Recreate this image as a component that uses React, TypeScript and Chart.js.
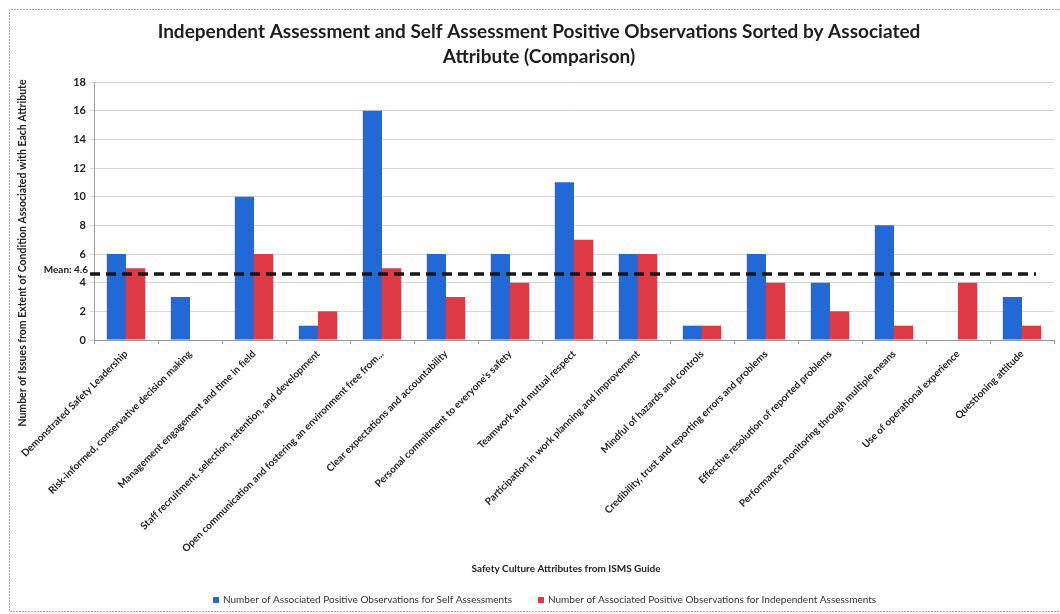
import React, { useEffect, useRef } from "react";
import { Chart, registerables } from "chart.js";

Chart.register(...registerables);

const titleLines = [
  "Independent Assessment and Self Assessment Positive Observations Sorted by Associated",
  "Attribute (Comparison)",
];
const yAxisTitle = "Number of Issues from Extent of Condition Associated with Each Attribute";
const xAxisTitle = "Safety Culture Attributes from ISMS Guide";

const categories = [
  "Demonstrated Safety Leadership",
  "Risk-informed, conservative decision making",
  "Management engagement and time in field",
  "Staff recruitment, selection, retention, and development",
  "Open communication and fostering an environment free from...",
  "Clear expectations and accountability",
  "Personal commitment to everyone's safety",
  "Teamwork and mutual respect",
  "Participation in work planning and improvement",
  "Mindful of hazards and controls",
  "Credibility, trust and reporting errors and problems",
  "Effective resolution of reported problems",
  "Performance monitoring through multiple means",
  "Use of operational experience",
  "Questioning attitude",
];

const seriesLabels = [
  "Number of Associated Positive Observations for Self Assessments",
  "Number of Associated Positive Observations for Independent Assessments",
];
const selfValues = [6, 3, 10, 1, 16, 6, 6, 11, 6, 1, 6, 4, 8, 0, 3];
const independentValues = [5, 0, 6, 2, 5, 3, 4, 7, 6, 1, 4, 2, 1, 4, 1];

const meanValue = 4.6;
const meanLabel = "Mean: 4.6";
const yMin = 0;
const yMax = 18;
const yStep = 2;

const BLUE = "#2269d8";
const RED = "#df3a46";
const FONT = "Lato, 'Open Sans', sans-serif";

const decorPlugin = {
  id: "decor",
  beforeDraw(chart: any) {
    const { ctx, width, height } = chart;
    ctx.save();
    ctx.fillStyle = "#ffffff";
    ctx.fillRect(0, 0, width, height);
    ctx.strokeStyle = "#a8a8a8";
    ctx.lineWidth = 1;
    ctx.setLineDash([2, 1]);
    ctx.beginPath();
    ctx.moveTo(width, 9.5);
    ctx.lineTo(9.5, 9.5);
    ctx.lineTo(9.5, 611.5);
    ctx.lineTo(width, 611.5);
    ctx.stroke();
    ctx.restore();
  },
  afterDatasetsDraw(chart: any) {
    const { ctx, chartArea } = chart;
    const y = chart.scales.y.getPixelForValue(meanValue);
    ctx.save();
    ctx.strokeStyle = "#151515";
    ctx.lineWidth = 3.5;
    ctx.setLineDash([10, 6]);
    ctx.beginPath();
    ctx.moveTo(chartArea.left - 4, y);
    ctx.lineTo(chartArea.right - 18, y);
    ctx.stroke();
    ctx.setLineDash([]);
    ctx.fillStyle = "#222";
    ctx.font = `bold 10px ${FONT}`;
    ctx.textAlign = "right";
    ctx.textBaseline = "middle";
    ctx.fillText(meanLabel, chartArea.left - 6, y - 4);
    ctx.restore();
  },
  afterDraw(chart: any) {
    const { ctx } = chart;
    ctx.save();
    // title
    ctx.fillStyle = "#1e1e1e";
    ctx.font = `bold 19px ${FONT}`;
    ctx.textAlign = "center";
    ctx.textBaseline = "middle";
    titleLines.forEach((t, i) => ctx.fillText(t, 539, 32 + i * 25));
    // y title
    ctx.save();
    ctx.translate(23, 253);
    ctx.rotate(-Math.PI / 2);
    ctx.font = `bold 10.5px ${FONT}`;
    ctx.fillStyle = "#222";
    ctx.fillText(yAxisTitle, 0, 0);
    ctx.restore();
    // x title
    ctx.font = `bold 10px ${FONT}`;
    ctx.fillStyle = "#222";
    ctx.fillText(xAxisTitle, 566, 569);
    // legend
    const items = chart.data.datasets.map((d: any) => ({ label: d.label, color: d.backgroundColor }));
    const starts = [213, 538];
    ctx.font = `10px ${FONT}`;
    ctx.textAlign = "left";
    items.forEach((it: any, i: number) => {
      const x = starts[i];
      ctx.fillStyle = it.color;
      ctx.fillRect(x, 597, 6, 6);
      ctx.fillStyle = "#333";
      ctx.fillText(it.label, x + 10, 600);
    });
    ctx.restore();
  },
};

export default function App() {
  const canvasRef = useRef<HTMLCanvasElement | null>(null);

  useEffect(() => {
    document.body.style.margin = "0";
    const canvas = canvasRef.current;
    if (!canvas) return;
    const chart = new Chart(canvas, {
      type: "bar",
      data: {
        labels: categories,
        datasets: [
          {
            label: seriesLabels[0],
            data: selfValues,
            backgroundColor: BLUE,
            borderWidth: 0,
            categoryPercentage: 0.6,
            barPercentage: 1.0,
          },
          {
            label: seriesLabels[1],
            data: independentValues,
            backgroundColor: RED,
            borderWidth: 0,
            categoryPercentage: 0.6,
            barPercentage: 1.0,
          },
        ],
      },
      options: {
        responsive: false,
        animation: false,
        devicePixelRatio: 1,
        layout: { padding: { top: 82, left: 9, right: 6, bottom: 0 } },
        plugins: {
          legend: { display: false },
          title: { display: false },
          tooltip: { enabled: false },
        },
        scales: {
          x: {
            afterFit: (s: any) => {
              s.height = 274;
            },
            grid: {
              drawOnChartArea: false,
              drawTicks: true,
              tickLength: 4,
              color: "#9a9a9a",
              offset: true,
            },
            border: { color: "#9a9a9a" },
            ticks: {
              autoSkip: false,
              maxRotation: 45,
              minRotation: 45,
              padding: 4,
              color: "#1e1e1e",
              font: { family: FONT, size: 10, weight: "bold" },
            },
          },
          y: {
            min: yMin,
            max: yMax,
            afterFit: (s: any) => {
              s.width = 85;
            },
            ticks: {
              stepSize: yStep,
              padding: 4,
              color: "#222",
              font: { family: FONT, size: 11, weight: "bold" },
            },
            grid: {
              color: "#d6d6d6",
              tickLength: 4,
            },
            border: { color: "#a0a0a0" },
          },
        },
      },
      plugins: [decorPlugin],
    } as any);
    return () => chart.destroy();
  }, []);

  return (
    <div style={{ width: 1060, height: 614 }}>
      <canvas ref={canvasRef} width={1060} height={614} style={{ display: "block" }} />
    </div>
  );
}
